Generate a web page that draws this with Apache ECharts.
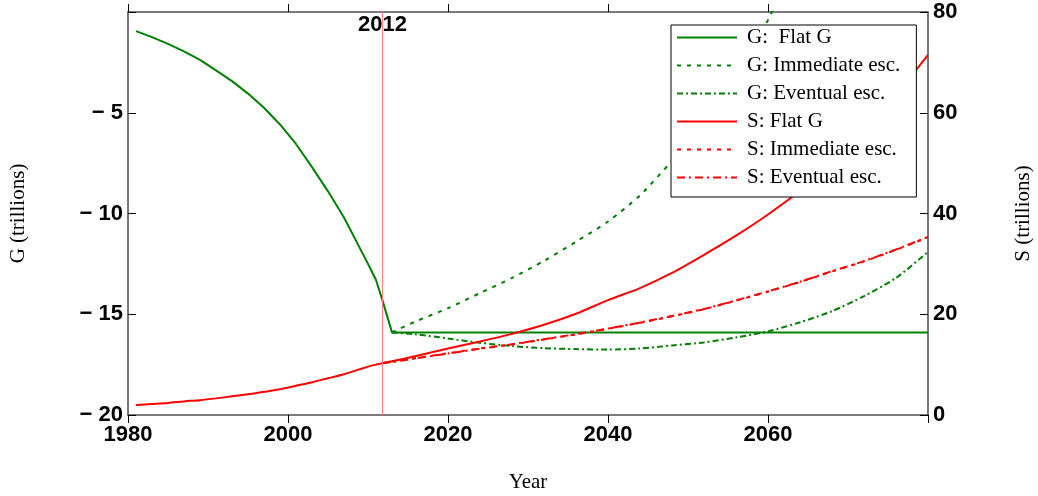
<!DOCTYPE html>
<html><head><meta charset="utf-8">
<script src="https://cdn.jsdelivr.net/npm/echarts@6/dist/echarts.min.js"></script>
<style>html,body{margin:0;padding:0;background:#fff}#c{width:1038px;height:496px}</style>
</head><body><div id="c"></div>
<script>
// ---- data ----
const histYears = [1981,1983,1985,1987,1989,1991,1993,1995,1997,1999,2001,2003,2005,2007,2009,2010,2011,2011.8];
const gHistory  = [-0.95,-1.25,-1.58,-1.95,-2.38,-2.9,-3.43,-4.05,-4.75,-5.58,-6.55,-7.7,-8.9,-10.2,-11.73,-12.5,-13.3,-14.3];
const sHistory  = [2.0,2.2,2.4,2.7,2.95,3.3,3.7,4.1,4.6,5.1,5.8,6.5,7.3,8.1,9.1,9.6,10.0,10.3];

const projYears   = [2013,2016,2020,2024,2028,2032,2036,2040,2044,2048,2052,2056,2060,2064,2068,2072,2076,2080];
const gFlat       = [-15.9,-15.9,-15.9,-15.9,-15.9,-15.9,-15.9,-15.9,-15.9,-15.9,-15.9,-15.9,-15.9,-15.9,-15.9,-15.9,-15.9,-15.9];
const gImmediate  = [-15.9,-15.35,-14.7,-13.95,-13.2,-12.35,-11.4,-10.4,-9.1,-7.4,-5.8,-3.4,-0.4,3.0,6.8,11.0,15.5,20.5];
const gEventual   = [-15.9,-16.0,-16.2,-16.42,-16.58,-16.68,-16.73,-16.75,-16.7,-16.55,-16.4,-16.15,-15.85,-15.4,-14.85,-14.1,-13.2,-11.9];
const sFlat       = [10.65,11.7,13.2,14.6,16.1,17.9,20.1,22.8,25.2,28.2,31.8,35.6,39.8,44.5,50.0,56.3,63.5,71.5];
const sImmediate  = [10.6,11.3,12.25,13.2,14.0,15.0,16.0,17.1,18.3,19.6,21.0,22.7,24.5,26.4,28.5,30.5,32.8,35.3];
const sEventual   = [10.5,11.25,12.2,13.15,14.05,15.05,16.05,17.15,18.35,19.65,21.05,22.75,24.55,26.45,28.55,30.55,32.85,35.35];

const legendNames = ['G:  Flat G','G: Immediate esc.','G: Eventual esc.','S: Flat G','S: Immediate esc.','S: Eventual esc.'];
const policyYear = 2011.8;
const policyLabel = '2012';

// ---- helpers ----
const pairs = (xs, ys) => xs.map((x, i) => [x, ys[i]]);
const startYear = histYears[histYears.length - 1];
const GREEN = '#008000', RED = '#ff0000';
const SANS = '"Liberation Sans", Arial, Helvetica, sans-serif';
const SERIF = '"Liberation Serif", "Times New Roman", serif';
const AXC = '#4d4d4d';

const chart = echarts.init(document.getElementById('c'), null, {renderer: 'canvas'});

function mkSeries(name, data, yAxisIndex, color, type, extra) {
  return Object.assign({
    name, type: 'line', data, yAxisIndex, xAxisIndex: 0,
    symbol: 'none', showSymbol: false, smooth: 0.25, clip: true,
    lineStyle: {color, width: 2, type},
    itemStyle: {color},
    animation: false
  }, extra || {});
}

const option = {
  animation: false,
  backgroundColor: '#fff',
  grid: {left: 128, right: 110, top: 12, bottom: 81, containLabel: false, outerBoundsMode: 'none'},
  legend: {
    data: legendNames,
    orient: 'vertical',
    left: 671, top: 25,
    backgroundColor: '#fff',
    borderColor: '#000', borderWidth: 1,
    padding: [2, 16, 9, 5],
    itemWidth: 60, itemHeight: 14, itemGap: 7,
    itemStyle: {opacity: 0},
    textStyle: {fontFamily: SERIF, fontSize: 21, color: '#000', padding: [0, 0, 0, 5]},
    selectedMode: false
  },
  xAxis: [{
    type: 'value', min: 1980, max: 2080, interval: 20, position: 'bottom',
    name: 'Year', nameLocation: 'middle', nameGap: 57,
    nameTextStyle: {fontFamily: SERIF, fontSize: 21, color: '#000'},
    axisLine: {show: true, lineStyle: {color: AXC, width: 1.5}},
    axisTick: {show: true, inside: true, length: 8, lineStyle: {color: '#000', width: 1}},
    axisLabel: {fontFamily: SANS, fontWeight: 'bold', fontSize: 22, color: '#000', margin: 9,
      showMaxLabel: false, formatter: v => String(v)},
    splitLine: {show: false}
  }, {
    type: 'value', min: 1980, max: 2080, interval: 20, position: 'top',
    axisLine: {show: true, lineStyle: {color: AXC, width: 1.5}},
    axisTick: {show: true, inside: true, length: 8, lineStyle: {color: '#000', width: 1}},
    axisLabel: {show: false}, splitLine: {show: false}
  }],
  yAxis: [{
    type: 'value', min: -20, max: 0, interval: 5, position: 'left',
    name: 'G (trillions)', nameLocation: 'middle', nameGap: 99, nameRotate: 90,
    nameTextStyle: {fontFamily: SERIF, fontSize: 21, color: '#000'},
    axisLine: {show: true, lineStyle: {color: AXC, width: 1.5}},
    axisTick: {show: true, inside: true, length: 8, lineStyle: {color: '#000', width: 1}},
    axisLabel: {fontFamily: SANS, fontWeight: 'bold', fontSize: 22, color: '#000', margin: 5,
      formatter: v => v === 0 ? '' : (v < 0 ? '\u2212 ' + Math.abs(v) : String(v))},
    splitLine: {show: false}
  }, {
    type: 'value', min: 0, max: 80, interval: 20, position: 'right',
    name: 'S (trillions)', nameLocation: 'middle', nameGap: 85, nameRotate: 90,
    nameTextStyle: {fontFamily: SERIF, fontSize: 21, color: '#000'},
    axisLine: {show: true, lineStyle: {color: AXC, width: 1.5}},
    axisTick: {show: true, inside: true, length: 8, lineStyle: {color: '#000', width: 1}},
    axisLabel: {fontFamily: SANS, fontWeight: 'bold', fontSize: 22, color: '#000', margin: 5},
    splitLine: {show: false}
  }],
  series: [
    mkSeries(legendNames[0], pairs(histYears, gHistory).concat(pairs(projYears, gFlat)), 0, GREEN, 'solid', {
      smooth: false,
      markLine: {
        silent: true, symbol: ['none', 'none'], animation: false,
        lineStyle: {color: '#ff8080', width: 1, type: 'solid'},
        label: {show: true, position: 'end', distance: -24, formatter: policyLabel,
          fontFamily: SANS, fontWeight: 'bold', fontSize: 22, color: '#000'},
        data: [{xAxis: policyYear}]
      }
    }),
    mkSeries(legendNames[1], pairs(projYears, gImmediate), 0, GREEN, [4, 6]),
    mkSeries(legendNames[2], pairs(projYears, gEventual), 0, GREEN, [6, 3, 2, 3]),
    mkSeries(legendNames[3], pairs(histYears, sHistory).concat(pairs(projYears, sFlat)), 1, RED, 'solid'),
    mkSeries(legendNames[4], [[startYear, sHistory[sHistory.length-1]]].concat(pairs(projYears, sImmediate)), 1, RED, [4, 6]),
    mkSeries(legendNames[5], [[startYear, sHistory[sHistory.length-1]]].concat(pairs(projYears, sEventual)), 1, RED, [8, 4, 2, 4])
  ]
};
chart.setOption(option);
</script>
</body></html>
